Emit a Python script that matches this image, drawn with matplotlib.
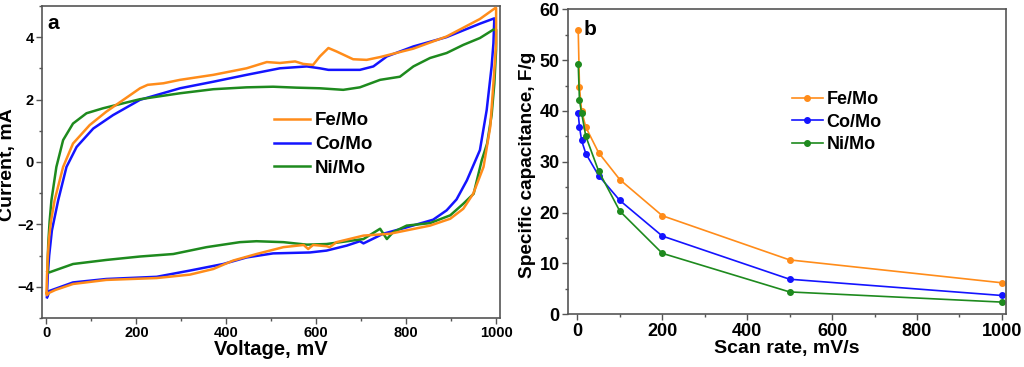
import numpy as np
import matplotlib.pyplot as plt
from matplotlib.ticker import MultipleLocator

plt.rcParams["font.family"] = ["Liberation Sans", "DejaVu Sans"]
plt.rcParams["font.weight"] = "bold"

# ── CV loops (a): voltage in mV, current in mA, traced around the loop ──
fe_v = [0, 1, 3, 6, 10, 18, 37, 59, 96, 133, 171, 208, 225, 260, 297, 371, 445, 490, 519,
        553, 571, 593, 608, 627, 645, 682, 712, 742, 816, 890, 964, 998, 1000, 1000, 994,
        987, 972, 949, 927, 898, 853, 764, 705, 645, 630, 623, 593, 582, 572, 527, 467, 415,
        371, 319, 245, 133, 59, 20, 5, 1, 0]
fe_i = [-4.2, -3.7, -3.0, -2.4, -1.9, -1.23, -0.16, 0.59, 1.18, 1.61, 1.99, 2.36, 2.47, 2.52,
        2.63, 2.79, 3.0, 3.20, 3.17, 3.22, 3.14, 3.11, 3.38, 3.65, 3.54, 3.29, 3.27, 3.36,
        3.63, 4.02, 4.58, 4.93, 4.93, 3.8, 2.52, 1.13, -0.16, -1.02, -1.50, -1.82, -2.04,
        -2.30, -2.36, -2.57, -2.73, -2.70, -2.66, -2.79, -2.66, -2.73, -2.95, -3.16, -3.43,
        -3.61, -3.72, -3.78, -3.91, -4.1, -4.2, -4.27, -4.2]

co_v = [1, 3, 6, 12, 26, 44.5, 67, 104, 148, 208, 297, 371, 445, 519, 579, 608, 627, 697,
        727, 757, 816, 890, 964, 996, 994, 990, 979, 964, 935, 912, 890, 860, 800, 749, 705,
        697, 668, 623, 586, 504, 445, 393, 319, 245, 133, 59, 7, 1.4]
co_i = [-4.3, -3.6, -3.0, -2.2, -1.23, -0.16, 0.48, 1.07, 1.50, 1.99, 2.36, 2.57, 2.79, 3.0,
        3.06, 3.0, 2.95, 2.95, 3.06, 3.38, 3.70, 4.0, 4.43, 4.6, 3.8, 3.06, 1.66, 0.38,
        -0.59, -1.2, -1.55, -1.85, -2.1, -2.30, -2.61, -2.54, -2.68, -2.84, -2.90, -2.93,
        -3.06, -3.27, -3.48, -3.68, -3.75, -3.86, -4.13, -4.34]

ni_v = [2, 4, 7, 11, 22, 37, 59, 89, 126, 171, 208, 297, 371, 445, 504, 556, 608, 660, 697,
        742, 786, 816, 831, 853, 890, 927, 964, 994, 1000, 1000, 996, 990, 980, 968, 950,
        927, 898, 853, 801, 771, 757, 742, 705, 623, 579, 527, 467, 430, 356, 282, 208, 133,
        59, 6, 2]
ni_i = [-3.5, -2.6, -1.9, -1.23, -0.16, 0.70, 1.23, 1.56, 1.72, 1.88, 2.01, 2.20, 2.33, 2.39,
        2.41, 2.38, 2.36, 2.31, 2.39, 2.63, 2.73, 3.06, 3.17, 3.33, 3.49, 3.75, 3.97, 4.24,
        4.24, 3.6, 2.5, 1.5, 0.59, 0.05, -1.02, -1.34, -1.71, -1.96, -2.04, -2.25, -2.47,
        -2.14, -2.47, -2.63, -2.65, -2.57, -2.54, -2.57, -2.73, -2.95, -3.03, -3.14, -3.27,
        -3.54, -3.5]

# ── Specific capacitance vs scan rate (b) ──
scan_rate = [2, 5, 10, 20, 50, 100, 200, 500, 1000]
cap_fe = [56.0, 44.7, 40.0, 36.8, 31.8, 26.5, 19.4, 10.7, 6.2]
cap_co = [39.5, 36.9, 34.2, 31.6, 27.3, 22.4, 15.4, 6.9, 3.7]
cap_ni = [49.3, 42.1, 39.6, 35.0, 28.2, 20.3, 12.0, 4.4, 2.4]

labels = ["Fe/Mo", "Co/Mo", "Ni/Mo"]
colors = ["#FF8C1A", "#1414FF", "#1E8A1E"]

fig = plt.figure(figsize=(10.24, 3.67), dpi=100)
ax1 = fig.add_axes([0.041, 0.1335, 0.447, 0.8505])
ax2 = fig.add_axes([0.5547, 0.1436, 0.4274, 0.8311])

for v, i, lab, c in zip([fe_v, co_v, ni_v], [fe_i, co_i, ni_i], labels, colors):
    ax1.plot(v, i, color=c, lw=1.8, label=lab)
# orange drawn on top like the reference
ax1.lines[0].set_zorder(3)

ax1.set_xlim(-10, 1008)
ax1.set_ylim(-5, 5)
ax1.xaxis.set_major_locator(MultipleLocator(200))
ax1.xaxis.set_minor_locator(MultipleLocator(100))
ax1.yaxis.set_major_locator(MultipleLocator(2))
ax1.yaxis.set_minor_locator(MultipleLocator(1))
ax1.set_xlabel("Voltage, mV", fontsize=14.5, fontweight="bold", labelpad=0)
ax1.set_ylabel("Current, mA", fontsize=14, fontweight="bold")
ax1.yaxis.set_label_coords(-0.057, 0.49)
ax1.text(0.012, 0.975, "a", transform=ax1.transAxes, fontsize=15, fontweight="bold",
         va="top", ha="left")
ax1.legend(loc="upper left", bbox_to_anchor=(0.47, 0.713), frameon=False, fontsize=13.5,
           handlelength=1.9, handletextpad=0.3, labelspacing=0.35)

for y, lab, c in zip([cap_fe, cap_co, cap_ni], labels, colors):
    ax2.plot(scan_rate, y, color=c, lw=1.2, marker="o", ms=4, label=lab)

ax2.set_xlim(-22, 1009)
ax2.set_ylim(0, 60)
ax2.xaxis.set_major_locator(MultipleLocator(200))
ax2.xaxis.set_minor_locator(MultipleLocator(100))
ax2.yaxis.set_major_locator(MultipleLocator(10))
ax2.yaxis.set_minor_locator(MultipleLocator(5))
ax2.set_xlabel("Scan rate, mV/s", fontsize=14, fontweight="bold", labelpad=0)
ax2.set_ylabel("Specific capacitance, F/g", fontsize=13.7, fontweight="bold")
ax2.yaxis.set_label_coords(-0.073, 0.49)
ax2.text(0.035, 0.965, "b", transform=ax2.transAxes, fontsize=15, fontweight="bold",
         va="top", ha="left")
ax2.legend(loc="upper left", bbox_to_anchor=(0.475, 0.785), frameon=False, fontsize=13,
           handlelength=1.7, handletextpad=0.2, labelspacing=0.3)

for ax, fs in [(ax1, 10.5), (ax2, 13)]:
    for s in ax.spines.values():
        s.set_color("#555555")
        s.set_linewidth(1.2)
    ax.tick_params(which="both", direction="out", top=False, right=False,
                   color="#555555", width=1.0)
    ax.tick_params(which="major", length=4, labelsize=fs, pad=2)
    ax.tick_params(which="minor", length=2.5)
    for t in ax.get_xticklabels() + ax.get_yticklabels():
        t.set_fontweight("bold")

fig.savefig("out.png", dpi=100)
